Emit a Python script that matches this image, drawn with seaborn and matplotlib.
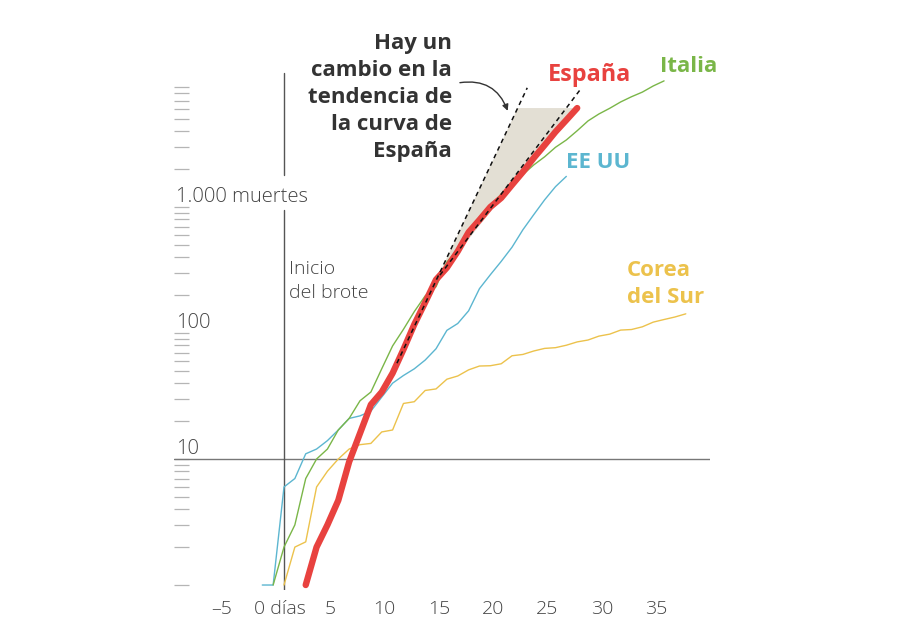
import numpy as np
import pandas as pd
import matplotlib
matplotlib.use('Agg')
import matplotlib.pyplot as plt
import matplotlib.transforms as mtransforms
from matplotlib.ticker import NullLocator
import seaborn as sns

sns.set_style('white')
plt.rcParams['font.family'] = ['Open Sans', 'DejaVu Sans']

# --- datos: muertes acumuladas segun dias desde el inicio del brote ---
dias_espana = list(range(2, 28))
espana = [1, 2, 3, 4.7, 9.5, 16, 27, 34, 48, 74, 117, 175, 265, 330, 445, 630,
          790, 1000, 1180, 1500, 1900, 2450, 3100, 3950, 4900, 6100]

dias_italia = list(range(-1, 36))
italia = [1, 2, 3, 7, 10, 12, 17, 21, 29, 34, 52, 79, 107, 148, 197, 233, 366,
          463, 631, 827, 1016, 1266, 1441, 1809, 2158, 2503, 2978, 3405, 4032,
          4825, 5476, 6077, 6820, 7503, 8165, 9134, 10023]

dias_eeuu = list(range(-2, 27))
eeuu = [1, 1, 6, 7, 11, 12, 14, 17, 21, 22, 24, 31, 40, 46, 52, 61, 75, 105,
        119, 150, 225, 290, 370, 480, 660, 870, 1140, 1450, 1750]

dias_corea = list(range(0, 38))
corea = [1, 2, 2.2, 6, 8, 10, 12, 13, 13.3, 16.4, 17, 27.6, 28.5, 35, 36, 43,
         45.6, 51, 54.7, 55, 57, 66, 67.6, 72, 75.5, 76.5, 80, 85, 88, 94.5,
         98, 105.5, 106.6, 112, 122, 128, 134, 142]

# rectas de tendencia (extremos) y limites de la zona sombreada
tend_antes_dias = [10.4, 22.4]
tend_antes = [57.6, 8830]
tend_ahora_dias = [14.36, 27.26]
tend_ahora = [288, 8500]
techo_sombra = 6100
fin_sombra_dia = 26.6

xticks = [-5, 0, 5, 10, 15, 20, 25, 30, 35]
xtick_labels = ['\u20135', '0 días', '5', '10', '15', '20', '25', '30', '35']
ytick_vals = [m * 10 ** e for e in range(4) for m in range(1, 10)]
ylabels = {10: '10', 100: '100', 1000: '1.000 muertes'}

rojo, verde, azul, amarillo = '#e8423f', '#7ab648', '#5cb6d0', '#ecc24c'
gris_txt = '#444444'

fig = plt.figure(figsize=(9.22, 6.3), dpi=100)
ax = fig.add_axes([174 / 922, 40 / 630, 536 / 922, 590 / 630])
ax.set_yscale('log')
ax.set_xlim(-10.13, 39.23)
ax.set_ylim(0.913, 43950)

# lineas de referencia (la vertical se corta bajo el texto "1.000 muertes")
ax.axhline(10, color='#777777', lw=1, zorder=1)
ax.plot([0, 0], [0.913, 950], color='#555555', lw=1, zorder=1)
ax.plot([0, 0], [1800, 11500], color='#555555', lw=1, zorder=1)

# zona sombreada entre las dos tendencias
a1 = np.diff(np.log10(tend_antes))[0] / np.diff(tend_antes_dias)[0]
a2 = np.diff(np.log10(tend_ahora))[0] / np.diff(tend_ahora_dias)[0]
b1 = np.log10(tend_antes[0]) - a1 * tend_antes_dias[0]
b2 = np.log10(tend_ahora[0]) - a2 * tend_ahora_dias[0]
d_apex = (b2 - b1) / (a1 - a2)
top = np.log10(techo_sombra)
poly_x = [d_apex, (top - b1) / a1, fin_sombra_dia]
poly_y = [10 ** (a1 * d_apex + b1), techo_sombra, techo_sombra]
ax.fill(poly_x, poly_y, color='#e3dfd4', lw=0, zorder=1.5)

series = [
    (dias_corea, corea, amarillo, 1.0),
    (dias_eeuu, eeuu, azul, 1.0),
    (dias_italia, italia, verde, 1.0),
    (dias_espana, espana, rojo, 4.6),
]
for i, (d, v, c, lw) in enumerate(series):
    df = pd.DataFrame({'dia': d, 'muertes': v})
    sns.lineplot(data=df, x='dia', y='muertes', color=c, lw=lw, ax=ax,
                 zorder=2 + i, solid_capstyle='round', solid_joinstyle='round')

for dd, vv in [(tend_antes_dias, tend_antes), (tend_ahora_dias, tend_ahora)]:
    ax.plot(dd, vv, color='#111111', lw=1.1, ls=(0, (3, 2.5)), zorder=7)

# ejes
for s in ax.spines.values():
    s.set_visible(False)
ax.set_xlabel('')
ax.set_ylabel('')
ax.set_yticks(ytick_vals)
ax.yaxis.set_minor_locator(NullLocator())
ax.tick_params(axis='y', which='major', left=True, direction='in', length=11,
               width=0.9, color='#b5b5b5', labelleft=False, pad=0)
ax.set_xticks(xticks)
ax.set_xticklabels(xtick_labels)
ax.tick_params(axis='x', length=0, pad=7, labelsize=14, labelcolor=gris_txt)
for lab, t in zip(ax.get_xticklabels(), xticks):
    lab.set_fontweight('light')
    dx = -4 if t == 0 else -8
    lab.set_transform(lab.get_transform() +
                      mtransforms.ScaledTranslation(dx / fig.dpi, 0, fig.dpi_scale_trans))

for v, txt in ylabels.items():
    ax.annotate(txt, xy=(-10.13, v), xytext=(1.5, 3.5), textcoords='offset points',
                va='baseline', ha='left', fontsize=14.5, fontweight='light',
                color=gris_txt, zorder=3)

ax.text(0.42, 260, 'Inicio\ndel brote', fontsize=14, fontweight='light',
        color=gris_txt, va='center', ha='left', linespacing=1.42)

bold = dict(fontweight='bold', fontsize=16)
ax.text(24.3, 11080, 'España', color=rojo, va='center', ha='left',
        fontweight='bold', fontsize=16.8)
ax.text(34.6, 12940, 'Italia', color=verde, va='center', ha='left', **bold)
ax.text(26.0, 2240, 'EE UU', color=azul, va='center', ha='left', **bold)
ax.text(31.6, 246, 'Corea\ndel Sur', color=amarillo, va='center', ha='left',
        linespacing=1.35, **bold)
ax.text(15.47, 7360, 'Hay un\ncambio en la\ntendencia de\nla curva de\nEspaña',
        color='#333333', va='center', ha='right', linespacing=1.38, **bold)

ax.annotate('', xy=(20.6, 5800), xytext=(16.2, 9700),
            arrowprops=dict(arrowstyle='-|>', color='#333333', lw=1,
                            mutation_scale=9, connectionstyle='arc3,rad=-0.4',
                            shrinkA=0, shrinkB=0))

plt.savefig('out.png', dpi=100)
plt.close()
